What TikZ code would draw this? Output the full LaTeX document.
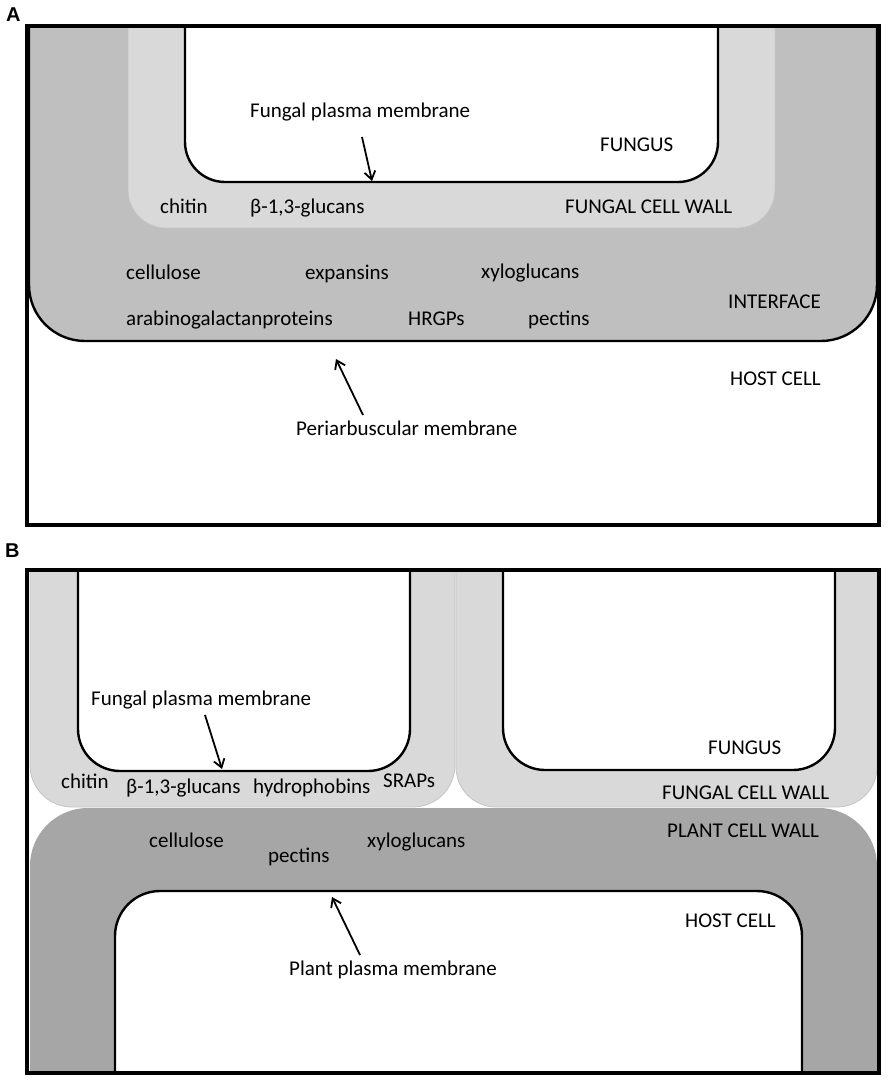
\documentclass[tikz,border=0pt]{standalone}
\usepackage{fontspec}
\setmainfont{Carlito}
\newfontfamily\panelfont{Liberation Sans}
\usetikzlibrary{arrows.meta}
\definecolor{ifgray}{RGB}{191,191,191}
\definecolor{wallgray}{RGB}{217,217,217}
\definecolor{walledge}{RGB}{196,196,196}
\definecolor{plantgray}{RGB}{166,166,166}
\begin{document}
\begin{tikzpicture}[x=1pt,y=-1pt,
  lbl/.style={anchor=base west, inner sep=0pt, font=\fontsize{21}{25}\selectfont},
  panel/.style={anchor=base west, inner sep=0pt, font=\fontsize{20}{22}\panelfont\bfseries},
  membrane/.style={line width=2.4pt, draw=black, fill=white},
  fwall/.style={fill=wallgray, draw=walledge, line width=0.8pt},
  frame/.style={line width=3.2pt, draw=black},
  pointer/.style={line width=1.8pt, -{Straight Barb[length=8pt,width=11pt,line width=1.8pt]}}]
\useasboundingbox (0,0) rectangle (892,1084);

% ================= Panel A =================
\filldraw[fill=ifgray, draw=black, line width=2.4pt, rounded corners=56pt]
  (29,27) -- (29,341) -- (877,341) -- (877,27);
\filldraw[fwall, rounded corners=38pt]
  (128,27) -- (128,228) -- (775,228) -- (775,27);
\filldraw[membrane, rounded corners=40pt]
  (185,27) -- (185,182) -- (718,182) -- (718,27);
\draw[frame] (27,26) rectangle (879,525);

\node[panel] (pA) at (6,21) {A};
\node[lbl] (fpmA) at (250,117) {Fungal plasma membrane};
\node[lbl] (fungA) at (600,151) {FUNGUS};
\node[lbl] (chitA) at (160,213) {chitin};
\node[lbl] (glucA) at (250,213) {β-1,3-glucans};
\node[lbl] (fcwA) at (565,213) {FUNGAL CELL WALL};
\node[lbl] (cellA) at (126,279) {cellulose};
\node[lbl] (expA) at (305,279) {expansins};
\node[lbl] (xyloA) at (481,278) {xyloglucans};
\node[lbl] (intA) at (728,308) {INTERFACE};
\node[lbl] (agpA) at (126,325) {arabinogalactanproteins};
\node[lbl] (hrgA) at (408,325) {HRGPs};
\node[lbl] (pectA) at (528,325) {pectins};
\node[lbl] (hostA) at (730,385) {HOST CELL};
\node[lbl] (pamA) at (296,435) {Periarbuscular membrane};

\coordinate (fpmAt) at (362,137);
\coordinate (fpmAh) at (372,181);
\draw[pointer] (fpmAt) -- (fpmAh);
\coordinate (pamAt) at (363,415);
\coordinate (pamAh) at (336,359);
\draw[pointer] (pamAt) -- (pamAh);

% ================= Panel B =================
\filldraw[fwall, rounded corners=42pt]
  (30,570) -- (30,807) -- (455,807) -- (455,570);
\filldraw[fwall, rounded corners=40pt]
  (456,570) -- (456,807) -- (877,807) -- (877,570);
\filldraw[membrane, rounded corners=42pt]
  (78,570) -- (78,771) -- (410,771) -- (410,570);
\filldraw[membrane, rounded corners=42pt]
  (503,570) -- (503,770) -- (835,770) -- (835,570);
\fill[plantgray, rounded corners=58pt]
  (30,1073) -- (30,808) -- (877,808) -- (877,1073);
\filldraw[membrane, rounded corners=45pt]
  (115,1073) -- (115,891) -- (802,891) -- (802,1073);
\draw[frame] (27,570) rectangle (879,1073);

\node[panel] (pB) at (5,557) {B};
\node[lbl] (fpmB) at (91,705) {Fungal plasma membrane};
\node[lbl] (chitB) at (61,788) {chitin};
\node[lbl] (glucB) at (126,793) {β-1,3-glucans};
\node[lbl] (hydB) at (253,793) {hydrophobins};
\node[lbl] (srapB) at (383,787) {SRAPs};
\node[lbl] (fungB) at (708,754) {FUNGUS};
\node[lbl] (fcwB) at (662,799) {FUNGAL CELL WALL};
\node[lbl] (pcwB) at (667,837) {PLANT CELL WALL};
\node[lbl] (cellB) at (149,847) {cellulose};
\node[lbl] (pectB) at (268,862) {pectins};
\node[lbl] (xyloB) at (367,847) {xyloglucans};
\node[lbl] (hostB) at (685,927) {HOST CELL};
\node[lbl] (ppmB) at (289,975) {Plant plasma membrane};

\coordinate (fpmBt) at (205,715);
\coordinate (fpmBh) at (222,769);
\draw[pointer] (fpmBt) -- (fpmBh);
\coordinate (ppmBt) at (360,955);
\coordinate (ppmBh) at (332,897);
\draw[pointer] (ppmBt) -- (ppmBh);
\end{tikzpicture}
\end{document}
